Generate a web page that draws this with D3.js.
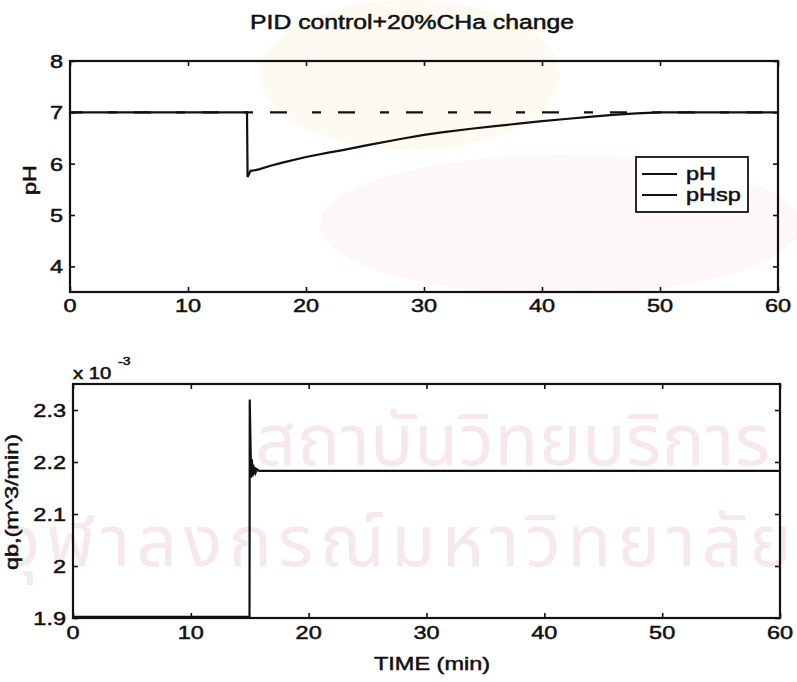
<!DOCTYPE html>
<html>
<head>
<meta charset="utf-8">
<script src="https://cdn.jsdelivr.net/npm/d3@7"></script>
<style>
  body { margin: 0; background: #fff; }
  svg text { font-family: "Liberation Sans", Arial, sans-serif; fill: #111; }
  .box { fill: none; stroke: #111; stroke-width: 2.2; }
  .tick line { stroke: #111; stroke-width: 1.6; }
  .domain { display: none; }
</style>
</head>
<body>
<div id="chart"></div>
<script>
// pH response (min, pH)
var phTime = [0, 15, 15.05, 15.3, 15.6, 16, 17, 18, 20, 22, 23, 25, 28, 30, 31.5, 34, 36, 38, 40, 42, 44, 46, 48, 50, 55, 60];
var phVal  = [7.0, 7.0, 5.74, 5.86, 5.87, 5.89, 5.96, 6.02, 6.13, 6.22, 6.26, 6.35, 6.48, 6.56, 6.61, 6.68, 6.73, 6.78, 6.83, 6.87, 6.91, 6.95, 6.98, 7.0, 7.0, 7.0];
// set point
var spTime = [0, 60];
var spVal  = [7.0, 7.0];
// base flow qb, in units of 1e-3 m^3/min
var qbTime = [0, 14.98, 15.0, 15.06, 15.12, 15.18, 15.24, 15.3, 15.36, 15.42, 15.5, 15.6, 15.8, 60];
var qbVal  = [1.902, 1.902, 2.32, 2.24, 2.17, 2.205, 2.172, 2.195, 2.176, 2.19, 2.18, 2.186, 2.183, 2.183];

var xTicks = [0, 10, 20, 30, 40, 50, 60];
var phTicks = [4, 5, 6, 7, 8];
var qbTicks = [1.9, 2.0, 2.1, 2.2, 2.3];

var width = 797, height = 682;
var SX = 1.27;   // wide print face

var svg = d3.select("#chart").append("svg")
    .attr("width", width)
    .attr("height", height);

// faint background stamp
var bg = svg.append("g").attr("class", "stamp");
bg.append("ellipse").attr("cx", 410).attr("cy", 75).attr("rx", 150).attr("ry", 75)
    .style("fill", "#fdfaf2");
bg.append("ellipse").attr("cx", 560).attr("cy", 225).attr("rx", 240).attr("ry", 70)
    .style("fill", "#fef7f8");
bg.append("text").attr("x", 255).attr("y", 465)
    .style("font-family", "'Noto Sans Thai', 'DejaVu Sans', sans-serif")
    .style("font-size", "72px").style("fill", "#f7e8ee")
    .attr("textLength", 515)
    .text("สถาบันวิทยบริการ");
bg.append("text").attr("x", 2).attr("y", 566)
    .style("font-family", "'Noto Sans Thai', 'DejaVu Sans', sans-serif")
    .style("font-size", "72px").style("fill", "#f7e8ee")
    .attr("textLength", 790)
    .text("จุฬาลงกรณ์มหาวิทยาลัย");

// stretched text helper
function label(g, str, x, y, size, anchor, rot) {
    return g.append("text")
        .attr("transform", "translate(" + x + "," + y + ")" + (rot ? " rotate(-90)" : "") + " scale(" + SX + ",1)")
        .attr("text-anchor", anchor || "middle")
        .style("font-size", size + "px")
        .style("stroke", "#111").style("stroke-width", 0.5)
        .text(str);
}

function panel(box, yDomain, yTicks, yFmt) {
    var x = d3.scaleLinear().domain([0, 60]).range([box.x0, box.x1]);
    var y = d3.scaleLinear().domain(yDomain).range([box.y1, box.y0]);
    var g = svg.append("g");

    // inward ticks on all four sides
    g.append("g").attr("transform", "translate(0," + box.y1 + ")")
        .call(d3.axisBottom(x).tickValues(xTicks).tickSizeInner(-5).tickSizeOuter(0).tickFormat(""));
    g.append("g").attr("transform", "translate(0," + box.y0 + ")")
        .call(d3.axisTop(x).tickValues(xTicks).tickSizeInner(-5).tickSizeOuter(0).tickFormat(""));
    g.append("g").attr("transform", "translate(" + box.x0 + ",0)")
        .call(d3.axisLeft(y).tickValues(yTicks).tickSizeInner(-5).tickSizeOuter(0).tickFormat(""));
    g.append("g").attr("transform", "translate(" + box.x1 + ",0)")
        .call(d3.axisRight(y).tickValues(yTicks).tickSizeInner(-5).tickSizeOuter(0).tickFormat(""));

    g.append("rect").attr("class", "box")
        .attr("x", box.x0).attr("y", box.y0)
        .attr("width", box.x1 - box.x0).attr("height", box.y1 - box.y0);

    xTicks.forEach(function(t) { label(g, t, x(t), box.y1 + box.xLab, 18.5); });
    yTicks.forEach(function(t) { label(g, yFmt(t), box.x0 - 7, y(t) + 7, 18.5, "end"); });

    return {g: g, x: x, y: y};
}

var line = function(p) {
    return d3.line().x(function(d) { return p.x(d[0]); }).y(function(d) { return p.y(d[1]); });
};

// ---- pH panel
var phPanel = panel({x0: 70, x1: 778, y0: 61, y1: 292, xLab: 20}, [3.5, 8], phTicks, d3.format("d"));

phPanel.g.append("path")
    .datum(d3.zip(spTime, spVal))
    .attr("d", line(phPanel))
    .style("fill", "none").style("stroke", "#111").style("stroke-width", 2.2)
    .style("stroke-dasharray", "17,25,9,17").style("stroke-dashoffset", 4);

phPanel.g.append("path")
    .datum(d3.zip(phTime, phVal))
    .attr("d", line(phPanel))
    .style("fill", "none").style("stroke", "#111").style("stroke-width", 2.2);

label(svg, "PID control+20%CHa change", 412, 29, 19.5);
label(svg, "pH", 36, 180, 18.5, "middle", true);

// legend
var leg = phPanel.g.append("g");
leg.append("rect").attr("x", 636).attr("y", 157).attr("width", 112).attr("height", 55)
    .style("fill", "#fff").style("stroke", "#111").style("stroke-width", 1.8);
leg.append("line").attr("x1", 642).attr("x2", 677).attr("y1", 174).attr("y2", 174)
    .style("stroke", "#111").style("stroke-width", 2);
leg.append("line").attr("x1", 642).attr("x2", 677).attr("y1", 195).attr("y2", 195)
    .style("stroke", "#111").style("stroke-width", 2);
label(leg, "pH", 686, 180, 18.5, "start");
label(leg, "pHsp", 686, 201, 18.5, "start");

// ---- qb panel
var qbPanel = panel({x0: 73, x1: 780, y0: 384, y1: 618, xLab: 21}, [1.9, 2.35], qbTicks, d3.format("~g"));

qbPanel.g.append("path")
    .datum(d3.zip(qbTime, qbVal))
    .attr("d", line(qbPanel))
    .style("fill", "none").style("stroke", "#111").style("stroke-width", 2.2);

label(svg, "x 10", 73, 379, 16, "start");
label(svg, "-3", 118, 365, 11, "start");
label(svg, "qb,(m^3/min)", 18, 502, 18.5, "middle", true);
label(svg, "TIME (min)", 432, 670, 18.5);
</script>
</body>
</html>
